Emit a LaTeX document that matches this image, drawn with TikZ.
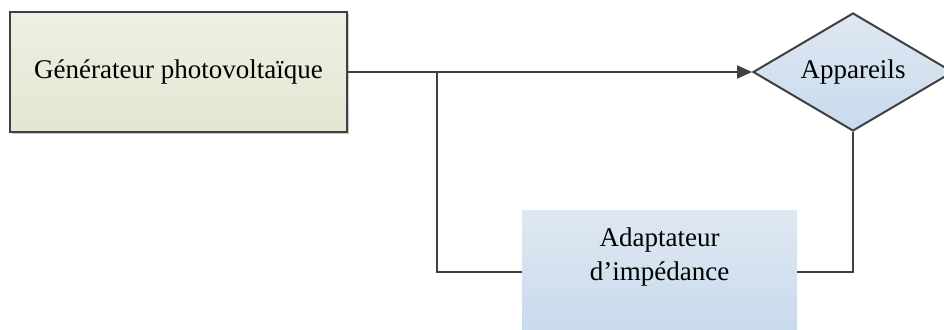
\documentclass[tikz,border=0pt]{standalone}
\usepackage{fontspec}
\setmainfont{Liberation Serif}
\usetikzlibrary{shapes.geometric,arrows.meta,shadows}
\definecolor{linegray}{HTML}{404040}
\definecolor{genTop}{HTML}{EEF0E2}
\definecolor{genBot}{HTML}{E2E7D2}
\definecolor{blueTop}{HTML}{DFE8F2}
\definecolor{blueBot}{HTML}{C8DAEC}
\tikzset{
  lbl/.style={font=\fontsize{27}{34}\selectfont, text=black, inner sep=0pt, align=center},
  genbox/.style={draw=linegray, line width=2pt, top color=genTop, bottom color=genBot,
    drop shadow={shadow xshift=2pt, shadow yshift=-2pt, opacity=0.35, fill=black!60},
    minimum width=337pt, minimum height=120pt, inner sep=0pt},
  devshape/.style={diamond, draw=linegray, line width=2pt, top color=blueTop, bottom color=blueBot,
    minimum width=200pt, minimum height=118pt, inner sep=0pt},
  adpbox/.style={top color=blueTop, bottom color=blueBot, draw=none,
    minimum width=275pt, minimum height=124pt, inner sep=0pt},
  wire/.style={draw=linegray, line width=2pt},
}
\begin{document}
\begin{tikzpicture}[x=1pt, y=-1pt]
  \clip (0,0) rectangle (944,329);
  \fill[white] (0,0) rectangle (944,329);

  % blocks
  \node[genbox] (gen) at (178.5,72) {};
  \node[lbl] (genlbl) at (gen) {Générateur photovoltaïque};

  \node[devshape] (app) at (853,72) {};
  \node[lbl] (applbl) at (app) {Appareils};

  \node[adpbox] (adp) at (659.5,272) {};
  \node[lbl] (adplbl) at (659.5,257) {Adaptateur\\d’impédance};

  % connections
  \coordinate (tap) at (437,72);
  \draw[wire, -{Triangle[length=15pt,width=13pt]}] (gen.east) -- (app.west);
  \draw[wire] (tap) |- (adp.west);
  \draw[wire] (adp.east) -| (app.south);
\end{tikzpicture}
\end{document}
